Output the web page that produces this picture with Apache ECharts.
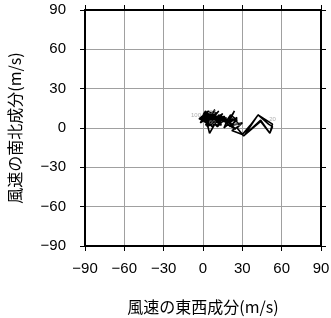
<!DOCTYPE html>
<html><head><meta charset="utf-8">
<script src="https://cdn.jsdelivr.net/npm/echarts@6/dist/echarts.min.js"></script>
<style>html,body{margin:0;padding:0;background:#fff}#c{width:331px;height:318px}</style>
</head><body><div id="c"></div>
<script>
// wind components (m/s) per time step 1..100
const uComp = [8,12,6,14,10,18,16,24,28,22, 30,36,42,50,53,51,44,32,42,53, 51,44,31,26,30,22,26,20,25,18, 24,20,14,19,23,17,21,26,20,22,
  17,12,8,14,5,10,2,7,12,4, 9,15,6,1,11,16,19,13,8,3, 5,9,2,7,12,4,0,6,10,3, 8,14,18,11,6,1,4,9,5,3, 2,-2,4,8,3,-1,6,2,9,4, 0,5,-3,3,7,1,-2,4,2,0];
const vComp = [6,4,8,2,9,5,0,7,2,-2, -5,2,10,3,1,-4,6,-5,10,3, -4,5,-6,0,4,2,8,4,-1,3, 13,5,9,2,7,4,10,6,1,3,
  6,10,4,8,2,12,6,1,7,9, 3,11,5,8,2,9,4,6,11,4, -4,3,10,7,13,3,7,12,5,1, 9,4,8,1,6,12,8,14,5,12, 4,8,10,3,7,5,11,2,8,13, 9,4,7,12,6,10,4,8,13,10];
const labelSteps = [20, 40, 60, 80, 100];
const tickVals = [-90, -60, -30, 0, 30, 60, 90];

const lineData = uComp.map((u, i) => [u, vComp[i]]);
const labelPos = {20: 'top', 40: 'right', 60: 'right', 80: 'right', 100: 'left'};
const labelData = labelSteps.map(s => ({value: [uComp[s-1], vComp[s-1]], name: String(s),
  label: {position: labelPos[s]}}));

const fmt = v => String(v).replace('-', '\u2212');
const font = 'Liberation Sans, Arial, sans-serif';
const cjk = 'Noto Sans CJK JP, sans-serif';
function axis(pos, isX, main) {
  return {
    type: 'value', position: pos, min: tickVals[0], max: tickVals[tickVals.length-1], interval: 30,
    axisLine: {show: true, onZero: false, lineStyle: {color: '#000', width: 2}},
    axisTick: {show: true, inside: false, length: 5, lineStyle: {color: '#000', width: 1}},
    axisLabel: {show: main, formatter: fmt, fontFamily: font, fontSize: 15, color: '#000', margin: isX ? 15 : 19},
    splitLine: {show: main, lineStyle: {color: '#a0a0a0', width: 1}},
    name: main ? (isX ? '風速の東西成分(m/s)' : '風速の南北成分(m/s)') : '',
    nameLocation: 'middle', nameGap: isX ? 53 : 62,
    nameTextStyle: {fontFamily: cjk, fontSize: 16, color: '#000'}
  };
}
const chart = echarts.init(document.getElementById('c'), null, {renderer: 'canvas'});
chart.setOption({
  animation: false,
  backgroundColor: '#fff',
  grid: {left: 85, right: 10, top: 10, bottom: 72, containLabel: false, outerBoundsMode: 'none'},
  xAxis: [axis('bottom', true, true), axis('top', true, false)],
  yAxis: [axis('left', false, true), axis('right', false, false)],
  series: [
    {type: 'line', data: lineData, showSymbol: false, symbol: 'none',
     lineStyle: {color: '#000', width: 1.6}, z: 3},
    {type: 'scatter', data: labelData, symbolSize: 0, z: 4,
     label: {show: true, formatter: p => p.name, color: '#999', fontSize: 6, fontFamily: font, distance: 2}}
  ]
});
</script></body></html>
